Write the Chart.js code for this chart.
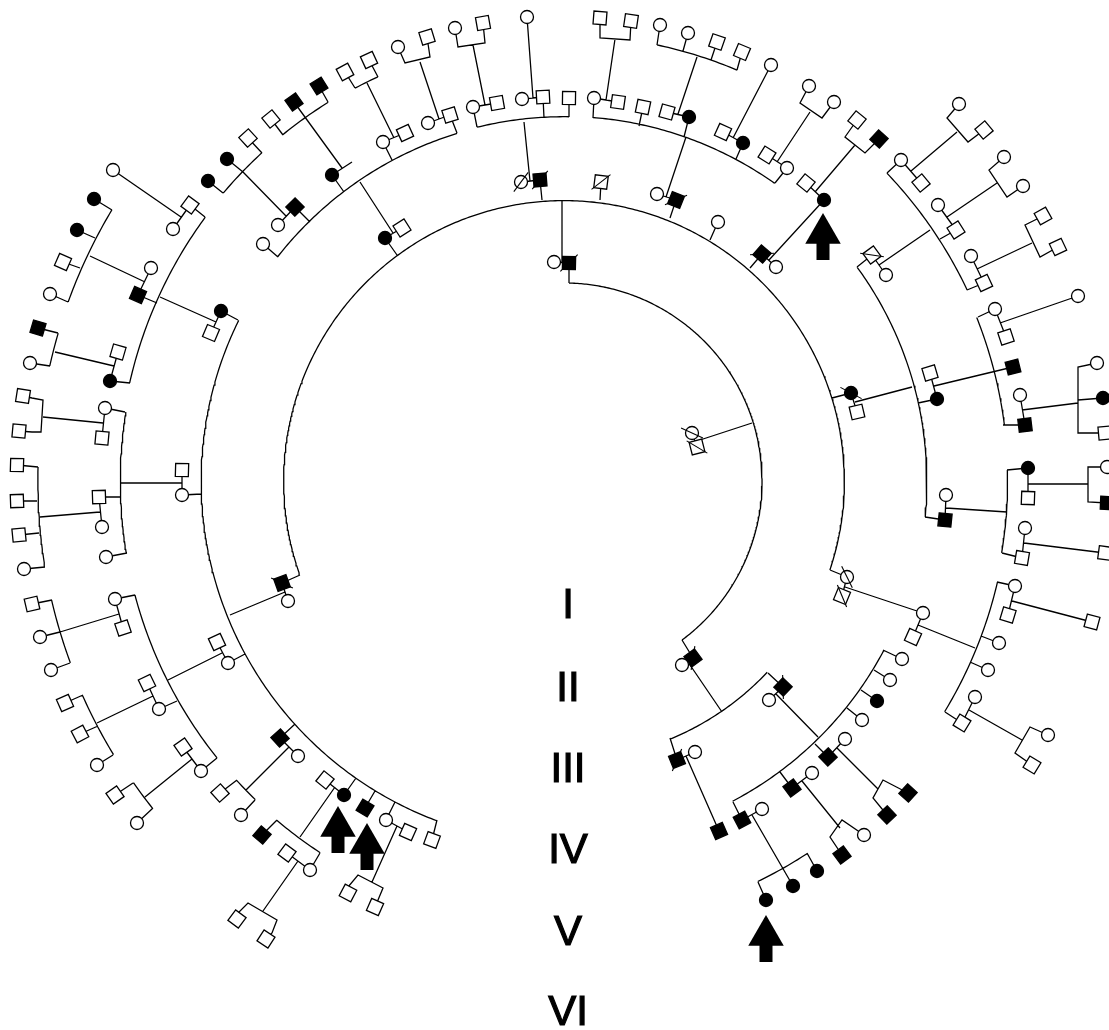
<!DOCTYPE html>
<html>
<head>
<meta charset="utf-8">
<title>Circular pedigree</title>
<script src="https://cdn.jsdelivr.net/npm/chart.js"></script>
<style>
  html, body { margin: 0; padding: 0; background: #fff; }
  #pedigree { display: block; }
</style>
</head>
<body>
<canvas id="pedigree" width="1109" height="1030"></canvas>
<script>
// centre of the rings (data units = picture pixels)
const ringCentre = { x: 564, y: 481 };

// generation labels down the open side of the circle
const generations = ['I', 'II', 'III', 'IV', 'V', 'VI'];
const generationY = [603, 686, 767, 848, 930, 1010];
const generationX = 568;

// individuals [x, y]
const femalesUnaffected = [
  [692,433], [554,262], [682,665],
  [288,601], [521,182], [657,194], [718,222], [776,267], [847,577], [769,700], [695,752],
  [278,225], [263,244], [383,142], [428,123], [473,107], [522,99], [594,98], [787,168], [886,275],
  [946,495], [923,613], [182,495], [228,663], [298,756], [386,820], [902,659], [890,680], [862,720],
  [845,739], [812,773], [762,809],
  [173,229], [151,268], [105,408], [102,527], [106,557], [115,599], [159,709], [201,771], [241,815],
  [310,870], [398,47], [455,28], [527,17], [660,25], [688,33], [771,65], [809,86], [834,102],
  [901,160], [938,205], [971,256], [995,309], [1020,395], [1025,528], [1015,586], [999,643],
  [988,670], [975,697], [864,835],
  [113,170], [50,294], [30,363], [24,569], [40,637], [51,670], [97,765], [137,823], [959,104],
  [1004,157], [1023,186], [1078,296], [1097,363], [1107,467], [1048,735]
];
const femalesAffected = [
  [385,238], [851,393], [332,175], [221,311], [689,117], [743,143], [824,200], [937,399], [877,701],
  [344,795], [208,181], [227,159], [110,381], [1028,468], [766,900], [793,886], [817,871],
  [94,199], [77,230], [1103,398]
];
const malesUnaffected = [
  [697,447], [402,228], [601,182], [857,412], [842,596],
  [211,333], [182,470], [217,642], [325,780], [408,832], [432,840], [405,133], [450,115], [497,103],
  [543,97], [569,98], [618,102], [643,107], [667,112], [723,132], [767,155], [806,183], [872,255],
  [930,373], [913,637],
  [190,205], [248,138], [271,119], [118,352], [102,438], [99,497], [123,628], [147,683], [183,747],
  [220,793], [287,853], [345,72], [369,60], [427,37], [483,23], [600,18], [631,21], [717,42],
  [742,52], [857,120], [921,183], [956,230], [984,283], [1006,337], [1028,498], [1022,558],
  [1008,615], [962,723], [348,893], [375,907],
  [63,262], [23,396], [19,431], [17,465], [17,501], [19,535], [32,604], [65,703], [80,734],
  [115,795], [237,919], [266,939], [984,130], [1043,216], [1058,247], [1092,622], [1105,433],
  [1105,553], [1032,765]
];
const malesAffected = [
  [569,263], [693,658], [282,583], [540,180], [676,200], [762,254], [783,687], [677,760],
  [295,207], [280,738], [365,808], [945,520], [828,757], [792,788], [742,820], [719,831],
  [138,295], [294,102], [319,86], [879,139], [1013,367], [1025,425], [262,835], [908,793],
  [887,815], [842,855], [38,328], [1107,503]
];
const deceased = [
  [692,433], [697,447], [569,263], [693,658], [521,182], [540,180], [601,182], [676,200],
  [762,254], [851,393], [847,577], [842,596], [282,583], [783,687], [677,760], [872,255]
];
// arrow tips under the probands
const probandArrows = [[823,213], [338,806], [367,823], [766,915]];

// sibship lines, drawn as arcs round the centre, clockwise from first end to second
const sibships = [
  [569,283, 682,640],
  [300,575, 830,570], [768,673, 670,738],
  [437,820, 238,320], [278,257, 457,133], [477,127, 569,117],
  [593,118, 775,183], [857,267, 925,517], [883,650, 733,802],
  [130,383, 205,217], [127,553, 125,412], [217,758, 135,595],
  [223,193, 262,153], [283,135, 328,102], [355,88, 378,77],
  [657,45, 737,70], [887,173, 967,290], [978,317, 1003,425],
  [1007,470, 1002,553], [997,582, 945,712], [807,853, 758,882],
  [255,800, 237,780], [320,853, 277,820],
  [68,302, 112,210], [50,366, 58,333], [45,567, 38,467],
  [70,663, 52,600], [113,755, 83,695], [153,808, 133,783]
];

// marriage lines, descent lines, ticks and small brackets (flat x,y lists)
const links = [
  // I - II
  [692,433, 697,447], [700,440, 752,423],
  [569,283, 569,263], [554,262, 569,263], [562,262, 562,200],
  [682,640, 693,658], [682,665, 693,658], [688,662, 722,712],
  // III
  [300,575, 282,583], [282,583, 288,601], [285,592, 230,615],
  [385,238, 397,255], [385,238, 402,228], [393,233, 360,182],
  [521,182, 540,180], [540,180, 542,200], [530,181, 524,122],
  [601,182, 600,200],
  [657,194, 676,200], [676,200, 670,218], [666,197, 686,137],
  [718,222, 710,240],
  [762,254, 776,267], [762,254, 750,268], [769,260, 824,200],
  [851,393, 857,412], [851,393, 832,398], [855,402, 912,387],
  [847,577, 842,596], [847,577, 830,570], [845,587, 923,613],
  [768,673, 783,687], [783,687, 769,700], [776,694, 818,737],
  [670,738, 677,760], [677,760, 695,752], [686,756, 719,831],
  // IV
  [221,311, 238,320], [221,311, 211,333], [216,322, 160,297],
  [182,470, 182,495], [182,495, 202,494], [182,483, 120,483],
  [217,642, 228,663], [228,663, 245,654], [222,653, 168,680],
  [280,738, 298,756], [280,738, 295,724], [289,747, 246,790],
  [325,780, 344,795], [344,795, 356,778], [335,787, 300,837],
  [365,808, 375,791],
  [386,820, 408,832], [386,820, 395,802], [397,826, 372,882],
  [432,840, 437,820],
  [263,244, 278,257], [295,207, 278,225], [295,207, 310,222], [286,216, 243,172],
  [332,175, 352,162], [332,175, 344,192], [342,168, 294,102],
  [383,142, 405,133], [383,142, 392,160], [394,138, 367,83],
  [428,123, 450,115], [450,115, 457,133], [439,119, 420,62],
  [473,107, 497,103], [473,107, 477,127], [485,105, 473,45],
  [522,99, 543,97], [543,97, 544,118], [533,98, 527,17],
  [569,98, 569,117],
  [594,98, 618,102], [594,98, 593,118], [606,100, 615,39],
  [643,107, 639,126],
  [667,112, 689,117], [689,117, 684,137], [678,114, 697,57],
  [723,132, 743,143], [743,143, 736,159], [733,138, 771,65],
  [767,155, 787,168], [787,168, 775,183], [777,162, 810,112],
  [806,183, 824,200], [815,192, 855,145],
  [872,255, 886,275], [872,255, 857,267], [879,265, 930,230],
  [930,373, 937,399], [937,399, 918,403], [934,386, 1013,367],
  [946,495, 945,520], [945,520, 925,517], [946,508, 1007,512],
  [923,613, 913,637], [918,625, 975,648],
  [902,659, 883,650], [890,680, 874,670], [877,701, 861,690], [862,720, 847,708],
  [828,757, 845,739], [828,757, 815,744], [837,748, 878,789],
  [792,788, 812,773], [792,788, 780,772], [802,781, 840,828],
  [742,820, 762,809], [742,820, 733,802], [752,815, 793,886],
  // V
  [190,205, 173,229], [190,205, 205,217], [181,217, 113,170],
  [138,295, 151,268], [138,295, 157,303], [145,282, 90,256],
  [110,381, 118,352], [110,381, 130,383], [114,366, 55,352],
  [105,408, 102,438], [105,408, 125,412], [103,423, 43,417],
  [99,497, 102,527], [99,497, 120,497], [100,512, 40,517],
  [106,557, 127,553],
  [115,599, 123,628], [115,599, 135,595], [119,614, 60,632],
  [147,683, 159,709], [159,709, 177,701], [153,696, 97,723],
  [183,747, 201,771], [201,771, 217,758], [192,759, 145,797],
  [220,793, 237,780], [241,815, 255,800],
  [262,835, 277,820], [310,870, 320,853], [287,853, 310,870], [298,861, 263,911],
  [348,893, 348,887, 358,875, 383,888, 378,900, 375,907],
  [208,181, 223,193], [227,159, 243,172], [248,138, 262,153],
  [271,119, 283,135], [319,86, 328,102],
  [345,72, 355,88], [369,60, 378,77],
  [398,47, 405,63, 430,57, 427,37],
  [455,28, 458,47, 485,43, 483,23],
  [600,18, 600,38, 630,40, 631,21],
  [660,25, 657,45], [688,33, 683,51], [717,42, 711,60], [742,52, 737,70],
  [809,86, 800,103, 822,118, 834,102],
  [857,120, 845,137, 865,153, 879,139],
  [901,160, 887,173], [956,230, 940,239], [984,283, 967,290],
  [901,160, 921,183], [938,205, 956,230], [971,256, 984,283],
  [911,171, 957,132], [947,217, 997,183], [977,269, 1032,243],
  [959,104, 947,118, 968,142, 984,130],
  [1004,157, 989,170, 1007,197, 1023,186],
  [1043,216, 1025,225, 1040,257, 1058,247],
  [995,309, 978,317], [1025,425, 1003,425],
  [995,309, 1006,337], [1020,395, 1025,425],
  [1000,323, 1078,296], [1022,410, 1078,403],
  [1097,363, 1078,367, 1078,433, 1105,433], [1078,400, 1103,398],
  [1028,468, 1007,470], [1022,558, 1002,553],
  [1028,468, 1028,498], [1025,528, 1022,558],
  [1028,484, 1088,484], [1024,543, 1105,553],
  [1107,467, 1088,467, 1088,502, 1107,503],
  [1015,586, 997,582], [999,643, 981,636], [988,670, 970,662], [962,723, 945,712],
  [1015,586, 1008,615], [975,697, 962,723],
  [1012,601, 1092,622], [969,710, 1022,740],
  [1048,735, 1030,727, 1015,753, 1032,765],
  [766,900, 758,882], [817,871, 807,853],
  [908,793, 883,780, 873,798, 887,815],
  [864,835, 842,820, 830,837, 842,855],
  // VI
  [94,199, 112,210], [77,230, 95,238], [63,262, 80,268], [50,294, 68,302],
  [38,328, 58,333], [30,363, 50,366],
  [23,396, 32,398, 43,400, 41,432, 32,432, 19,431],
  [17,465, 38,467], [17,501, 37,501], [19,535, 39,533], [24,569, 45,567],
  [32,604, 52,600], [40,637, 60,632], [51,670, 70,663],
  [65,703, 83,695], [80,734, 98,726], [97,765, 113,755],
  [115,795, 133,783], [137,823, 153,808],
  [237,919, 238,913, 248,903, 277,920, 272,933, 266,939]
];

const GAP = { x: NaN, y: NaN };

function toPoints(list) {
  return list.map(p => ({ x: p[0], y: p[1] }));
}

// angle of a point round the ring centre, in degrees
function ringAngle(p) {
  return Math.atan2(p.y - ringCentre.y, p.x - ringCentre.x) * 180 / Math.PI;
}

function linkPoints(list) {
  const pts = [];
  list.forEach(line => {
    for (let i = 0; i < line.length; i += 2) {
      pts.push({ x: line[i], y: line[i + 1] });
    }
    pts.push(GAP);
  });
  return pts;
}

function arcPoints(list) {
  const pts = [];
  list.forEach(a => {
    const dx1 = a[0] - ringCentre.x, dy1 = a[1] - ringCentre.y;
    const dx2 = a[2] - ringCentre.x, dy2 = a[3] - ringCentre.y;
    const r = (Math.hypot(dx1, dy1) + Math.hypot(dx2, dy2)) / 2;
    const a1 = Math.atan2(dy1, dx1);
    let a2 = Math.atan2(dy2, dx2);
    while (a2 < a1) a2 += 2 * Math.PI;
    const steps = Math.max(2, Math.ceil((a2 - a1) * 360 / Math.PI));
    for (let i = 0; i <= steps; i++) {
      const t = a1 + (a2 - a1) * i / steps;
      pts.push({ x: ringCentre.x + r * Math.cos(t), y: ringCentre.y + r * Math.sin(t) });
    }
    pts.push(GAP);
  });
  return pts;
}

// arrow = triangle head + thick shaft
const arrowHead = 20.5;
function arrowHeadPoints() {
  return probandArrows.map(p => ({ x: p[0], y: p[1] + arrowHead }));
}
function arrowShaftPoints() {
  const pts = [];
  probandArrows.forEach(p => {
    pts.push({ x: p[0], y: p[1] + 28 });
    pts.push({ x: p[0], y: p[1] + 47 });
    pts.push(GAP);
  });
  return pts;
}

function symbolSet(list, style, filled) {
  return {
    data: toPoints(list),
    pointStyle: style,
    pointRadius: style === 'circle' ? 6.5 : 9.2,
    pointRotation: ctx => (style === 'rect' && ctx.raw ? ringAngle(ctx.raw) : 0),
    pointBackgroundColor: filled ? '#000' : '#fff',
    pointBorderColor: '#000',
    pointBorderWidth: 1.3,
    order: 5
  };
}

const generationLabels = {
  id: 'generationLabels',
  afterDatasetsDraw(chart) {
    const { ctx, scales } = chart;
    ctx.save();
    ctx.font = '42px "Liberation Sans", Arial, sans-serif';
    ctx.fillStyle = '#000';
    ctx.strokeStyle = '#000';
    ctx.lineWidth = 1.2;
    ctx.textAlign = 'center';
    ctx.textBaseline = 'alphabetic';
    generations.forEach((g, i) => {
      const x = scales.x.getPixelForValue(generationX);
      const y = scales.y.getPixelForValue(generationY[i]) + 15;
      ctx.fillText(g, x, y);
      ctx.strokeText(g, x, y);
    });
    ctx.restore();
  }
};

new Chart(document.getElementById('pedigree'), {
  type: 'scatter',
  data: {
    datasets: [
      {
        // sibship arcs and all connecting lines
        data: arcPoints(sibships).concat(linkPoints(links)),
        showLine: true,
        borderColor: '#000',
        borderWidth: 1.3,
        pointRadius: 0,
        pointHitRadius: 0,
        spanGaps: false,
        tension: 0,
        fill: false,
        order: 10
      },
      symbolSet(femalesUnaffected, 'circle', false),
      symbolSet(femalesAffected, 'circle', true),
      symbolSet(malesUnaffected, 'rect', false),
      symbolSet(malesAffected, 'rect', true),
      {
        // deceased slash
        data: toPoints(deceased),
        pointStyle: 'line',
        pointRadius: 12,
        pointRotation: ctx => (ctx.raw ? ringAngle(ctx.raw) + 45 : 0),
        pointBorderColor: '#000',
        pointBorderWidth: 1.1,
        order: 2
      },
      {
        data: arrowShaftPoints(),
        showLine: true,
        borderColor: '#000',
        borderWidth: 13,
        pointRadius: 0,
        spanGaps: false,
        order: 1
      },
      {
        data: arrowHeadPoints(),
        pointStyle: 'triangle',
        pointRadius: arrowHead,
        pointBackgroundColor: '#000',
        pointBorderWidth: 0,
        order: 1
      }
    ]
  },
  options: {
    responsive: false,
    animation: false,
    events: [],
    layout: { autoPadding: false, padding: 0 },
    plugins: {
      legend: { display: false },
      tooltip: { enabled: false }
    },
    scales: {
      x: { type: 'linear', min: 0, max: 1109, display: false },
      y: { type: 'linear', min: 0, max: 1030, reverse: true, display: false }
    }
  },
  plugins: [generationLabels]
});
</script>
</body>
</html>
